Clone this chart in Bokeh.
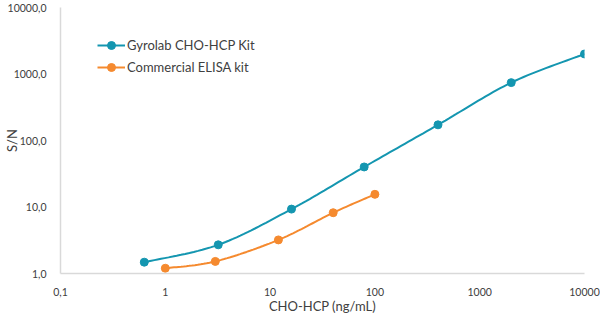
import numpy as np
from bokeh.plotting import figure
from bokeh.models import FixedTicker, CustomJSTickFormatter, Legend, LegendItem
from bokeh.embed import file_html
from bokeh.resources import INLINE

# Data
gyro_x = [0.63, 3.2, 16, 79, 400, 2000, 10000]
gyro_y = [1.48, 2.7, 9.3, 40, 172, 742, 2000]
elisa_x = [1, 3.0, 12, 40, 100]
elisa_y = [1.2, 1.52, 3.2, 8.2, 15.5]
x_ticks = [0.1, 1, 10, 100, 1000, 10000]
y_ticks = [1, 10, 100, 1000, 10000]

BLUE = "#1496b0"
ORANGE = "#f58a2f"
FONT = "Lato"
TXT = "#404040"


def smooth(xs, ys, n=20):
    # Bezier smoothing in log space (rendering of the line only)
    lx = np.log10(xs)
    ly = np.log10(ys)
    pts = np.column_stack([lx, ly])
    out = []
    m = len(pts)
    for i in range(m - 1):
        p0 = pts[i - 1] if i > 0 else pts[i]
        p1 = pts[i]
        p2 = pts[i + 1]
        p3 = pts[i + 2] if i + 2 < m else pts[i + 1]
        c1 = p1 + (p2 - p0) / 6.0
        c2 = p2 - (p3 - p1) / 6.0
        t = np.linspace(0, 1, n, endpoint=(i == m - 2))
        for tt in t:
            b = ((1 - tt) ** 3) * p1 + 3 * ((1 - tt) ** 2) * tt * c1 + 3 * (1 - tt) * tt ** 2 * c2 + tt ** 3 * p2
            out.append(b)
    out = np.array(out)
    return 10 ** out[:, 0], 10 ** out[:, 1]


p = figure(width=600, height=316, x_axis_type="log", y_axis_type="log",
           x_range=(0.1, 10000), y_range=(1, 10000),
           output_backend="svg", toolbar_location=None,
           min_border_left=10, min_border_right=16, min_border_top=7, min_border_bottom=10)
p.outline_line_color = None
p.xgrid.visible = False
p.ygrid.visible = False

gx, gy = smooth(gyro_x, gyro_y)
ex, ey = smooth(elisa_x, elisa_y)
l1 = p.line(gx, gy, line_color=BLUE, line_width=2)
s1 = p.scatter(gyro_x, gyro_y, size=8, fill_color=BLUE, line_color=BLUE)
l2 = p.line(ex, ey, line_color=ORANGE, line_width=2)
s2 = p.scatter(elisa_x, elisa_y, size=8, fill_color=ORANGE, line_color=ORANGE)

p.xaxis.ticker = FixedTicker(ticks=x_ticks, minor_ticks=[])
p.yaxis.ticker = FixedTicker(ticks=y_ticks, minor_ticks=[])
p.xaxis.formatter = CustomJSTickFormatter(code="return tick < 1 ? tick.toFixed(1).replace('.', ',') : tick.toFixed(0);")
p.yaxis.formatter = CustomJSTickFormatter(code="return tick.toFixed(1).replace('.', ',');")

for ax in (p.xaxis, p.yaxis):
    ax.axis_line_color = "#d9d9d9"
    ax.axis_line_width = 1.5
    ax.major_tick_line_color = None
    ax.minor_tick_line_color = None
    ax.major_label_text_font = FONT
    ax.major_label_text_font_size = "10.5px"
    ax.major_label_text_color = TXT
    ax.axis_label_text_font = FONT
    ax.axis_label_text_font_size = "13px"
    ax.axis_label_text_font_style = "normal"
    ax.axis_label_text_color = TXT

p.xaxis.axis_label = "CHO-HCP (ng/mL)"
p.yaxis.axis_label = "S/N"
p.xaxis.major_label_standoff = 8
p.xaxis.axis_label_standoff = -1
p.yaxis.major_label_standoff = 8
p.yaxis.axis_label_standoff = -15

legend = Legend(items=[LegendItem(label="Gyrolab CHO-HCP Kit", renderers=[l1, s1]),
                       LegendItem(label="Commercial ELISA kit", renderers=[l2, s2])],
                location=(37, 196))
legend.label_text_font = FONT
legend.label_text_font_size = "13px"
legend.label_text_color = TXT
legend.background_fill_alpha = 0
legend.border_line_color = None
legend.glyph_width = 28
legend.glyph_height = 20
legend.label_standoff = 2
legend.spacing = 2
legend.margin = 0
legend.padding = 0
p.add_layout(legend)

open("out.html", "w").write(file_html(p, INLINE))
